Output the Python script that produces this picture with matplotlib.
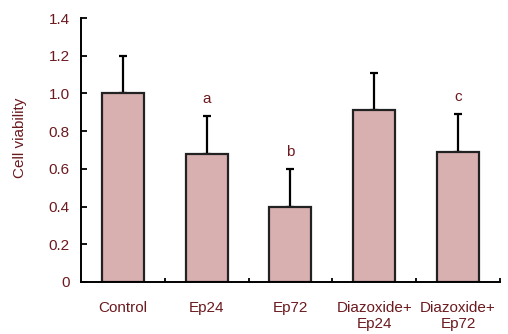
import numpy as np
import matplotlib.pyplot as plt
from matplotlib.ticker import FixedLocator

# datos del grafico
groups = ['Control', 'Ep24', 'Ep72', 'Diazoxide+\nEp24', 'Diazoxide+\nEp72']
viability = [1.00, 0.68, 0.40, 0.91, 0.69]
sd = [0.20, 0.20, 0.20, 0.20, 0.20]
letters = ['', 'a', 'b', '', 'c']
yticks = [0, 0.2, 0.4, 0.6, 0.8, 1.0, 1.2, 1.4]
ytick_labels = ['0', '0.2', '0.4', '0.6', '0.8', '1.0', '1.2', '1.4']

text_color = '#6b1a1f'
fs = 11
plt.rcParams['font.family'] = ['Liberation Sans', 'DejaVu Sans']

fig = plt.figure(figsize=(5.08, 3.34), dpi=100)
ax = fig.add_axes([0.1594, 0.1557, 0.8246, 0.7903])

x = np.arange(len(groups))
ax.bar(x, viability, width=0.5, color='#d9b0b0', edgecolor='#222222', linewidth=1.6, zorder=2)
ax.errorbar(x, viability, yerr=[np.zeros(len(sd)), sd], fmt='none', ecolor='black',
            elinewidth=1.6, capsize=3, capthick=1.6, zorder=1)

# letras de significancia
for xi, v, s, l in zip(x, viability, sd, letters):
    if l:
        ax.text(xi, v + s + 0.09, l, ha='center', va='center', color=text_color, fontsize=fs)

ax.set_xlim(-0.5, len(groups) - 0.5)
ax.set_ylim(0, 1.4)
ax.set_yticks(yticks)
ax.set_yticklabels(ytick_labels)
ax.set_xticks(x)
ax.set_xticklabels(groups, linespacing=1.1)
ax.xaxis.set_minor_locator(FixedLocator(np.arange(0.5, len(groups), 1.0)))

ax.tick_params(axis='y', direction='in', length=4, width=1.3, colors='black',
               labelcolor=text_color, labelsize=fs, pad=8)
ax.tick_params(axis='x', which='major', length=0, labelcolor=text_color, labelsize=fs, pad=14)
ax.tick_params(axis='x', which='minor', direction='in', length=3, width=1.3)

for side in ['top', 'right']:
    ax.spines[side].set_visible(False)
for side in ['left', 'bottom']:
    ax.spines[side].set_linewidth(1.4)

ax.set_ylabel('Cell viability', color=text_color, fontsize=fs)
ax.yaxis.set_label_coords(-0.129, 0.545)

fig.savefig('out.png', dpi=100)
